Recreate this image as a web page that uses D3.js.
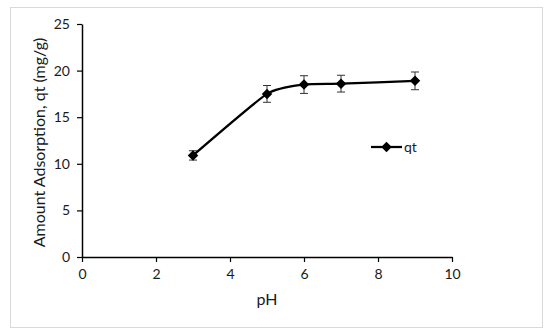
<!DOCTYPE html>
<html>
<head>
<meta charset="utf-8">
<script src="https://cdn.jsdelivr.net/npm/d3@7"></script>
<style>
  body { margin: 0; background: #fff; }
  svg text { font-family: Lato, "Liberation Sans", sans-serif; fill: #1a1a1a; }
</style>
</head>
<body>
<div id="chart"></div>
<script>
(function () {

    // values
    var phValues = [3, 5, 6, 7, 9],
        qtValues = [10.9, 17.5, 18.5, 18.6, 18.9],
        qtErrors = [0.5, 0.9, 0.95, 0.9, 0.95],
        xTicks = [0, 2, 4, 6, 8, 10],
        yTicks = [0, 5, 10, 15, 20, 25];

    var width = 550,
        height = 336,
        margin = {top: 24, right: 98, bottom: 79, left: 82};

    var svg = d3.select("#chart").append("svg")
        .attr("width", width)
        .attr("height", height);

    // outer chart frame
    svg.append("rect")
        .attr("x", 10.5).attr("y", 7.5)
        .attr("width", 532).attr("height", 320)
        .style("fill", "#fff")
        .style("stroke", "#d9d9d9")
        .style("stroke-width", 1);

    var x = d3.scaleLinear().domain([0, 10]).range([margin.left, width - margin.right]),
        y = d3.scaleLinear().domain([0, 25]).range([height - margin.bottom, margin.top]);

    var xAxis = svg.append("g")
        .attr("transform", "translate(0," + y(0) + ")")
        .call(d3.axisBottom(x).tickValues(xTicks).tickSize(5).tickSizeOuter(0).tickPadding(7));

    var yAxis = svg.append("g")
        .attr("transform", "translate(" + x(0) + ",0)")
        .call(d3.axisLeft(y).tickValues(yTicks).tickSize(5).tickSizeOuter(0).tickPadding(7));

    [xAxis, yAxis].forEach(function (g) {
        g.select(".domain").style("stroke", "#000").style("stroke-width", 1.5);
        g.selectAll(".tick line").style("stroke", "#000").style("stroke-width", 1.2);
        g.selectAll(".tick text").style("font-size", "14px").style("fill", "#1a1a1a");
    });

    svg.append("text")
        .attr("x", (x(0) + x(10)) / 2)
        .attr("y", 305)
        .attr("text-anchor", "middle")
        .style("font-size", "16px")
        .text("pH");

    svg.append("text")
        .attr("transform", "translate(45," + (y(12.5) + 2) + ") rotate(-90)")
        .attr("text-anchor", "middle")
        .style("font-size", "16px")
        .text("Amount Adsorption, qt (mg/g)");

    var data = phValues.map(function (p, i) {
        return {x: p, y: qtValues[i], e: qtErrors[i]};
    });

    // error bars
    var err = svg.append("g").selectAll("g").data(data).enter().append("g")
        .style("stroke", "#333").style("stroke-width", 1);
    err.append("line")
        .attr("x1", function (d) { return x(d.x); })
        .attr("x2", function (d) { return x(d.x); })
        .attr("y1", function (d) { return y(d.y - d.e); })
        .attr("y2", function (d) { return y(d.y + d.e); });
    err.selectAll("line.cap")
        .data(function (d) { return [{x: d.x, y: d.y - d.e}, {x: d.x, y: d.y + d.e}]; })
        .enter().append("line").attr("class", "cap")
        .attr("x1", function (d) { return x(d.x) - 4; })
        .attr("x2", function (d) { return x(d.x) + 4; })
        .attr("y1", function (d) { return y(d.y); })
        .attr("y2", function (d) { return y(d.y); });

    var line = d3.line()
        .x(function (d) { return x(d.x); })
        .y(function (d) { return y(d.y); })
        .curve(d3.curveCardinal.tension(0.45));

    svg.append("path")
        .datum(data)
        .attr("d", line)
        .style("fill", "none")
        .style("stroke", "#000")
        .style("stroke-width", 2.25);

    var diamond = d3.symbol().type(d3.symbolDiamond2).size(70);

    svg.append("g").selectAll("path").data(data).enter().append("path")
        .attr("transform", function (d) { return "translate(" + x(d.x) + "," + y(d.y) + ")"; })
        .attr("d", diamond)
        .style("fill", "#000");

    // legend
    var legend = svg.append("g").attr("transform", "translate(371,147)");
    legend.append("line")
        .attr("x1", 0).attr("x2", 31)
        .style("stroke", "#000").style("stroke-width", 2.25);
    legend.append("path")
        .attr("transform", "translate(15.5,0)")
        .attr("d", diamond)
        .style("fill", "#000");
    legend.append("text")
        .attr("x", 33).attr("y", 5)
        .style("font-size", "14px")
        .text("qt");

}());
</script>
</body>
</html>
